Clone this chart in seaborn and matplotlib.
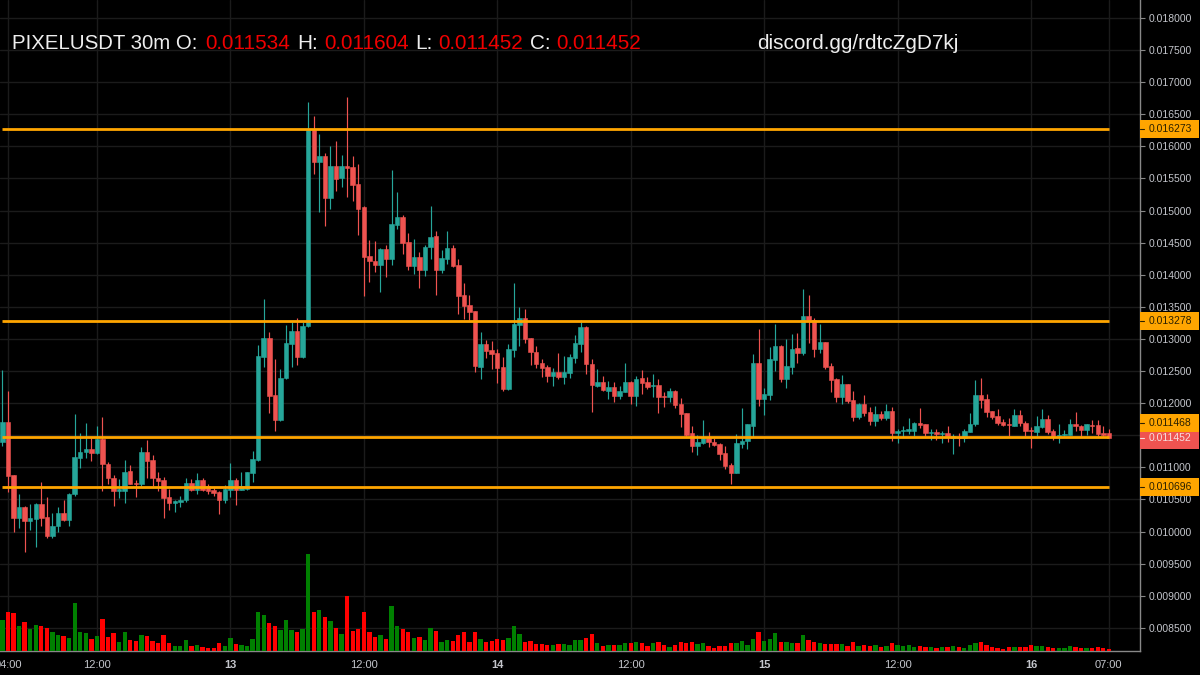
import numpy as np
import pandas as pd
import matplotlib
matplotlib.use('Agg')
import matplotlib.pyplot as plt
from matplotlib.patches import Rectangle
from matplotlib.transforms import blended_transform_factory
import seaborn as sns

# 价格单位: 1e-6
opens = [
    11398,11710,10880,10215,10381,10168,10194,10428,10220,9924,
    10080,10288,10184,10578,11149,11232,11289,11217,11435,11056,
    10838,10635,10635,10936,10760,10734,11243,11113,10838,10807,
    10542,10443,10459,10485,10760,10651,10807,10713,10646,10620,
    10485,10651,10807,10651,10667,10910,11118,12722,13012,12120,
    11731,12390,12924,13127,12722,13204,16256,15763,15857,15203,
    15696,15509,15696,15680,15415,15057,14294,14222,14154,14398,
    14253,14782,14907,14512,14139,14279,14076,14429,14601,14076,
    14253,14424,14149,13682,13537,13433,12571,12924,12831,12779,
    12556,12224,12836,13220,13329,13012,12805,12628,12556,12431,
    12488,12410,12472,12706,12924,13188,12617,12270,12337,12192,
    12254,12119,12176,12327,12119,12394,12327,12270,12280,12109,
    12093,12192,11984,11844,11533,11335,11377,11455,11403,11372,
    11226,11040,10910,11372,11408,11652,12628,12062,12135,12674,
    12892,12379,12571,12861,12789,13359,13297,12846,12955,12586,
    12384,12095,12293,12049,11789,11992,11857,11727,11831,11774,
    11872,11540,11561,11571,11571,11696,11670,11540,11556,11524,
    11540,11457,11467,11452,11556,11675,12132,12064,11877,11799,
    11711,11680,11649,11815,11696,11587,11556,11628,11758,11571,
    11483,11498,11509,11680,11649,11582,11665,11654,11535,11534,
]
highs = [
    12519,12192,10885,10589,10391,10428,10443,10776,10542,10288,
    10386,10485,10595,11829,11538,11694,11455,11637,11788,11087,
    10880,10822,11118,11040,10807,11321,11419,11186,10931,10853,
    10661,10495,10558,10838,10822,10910,10827,10744,10693,10625,
    10729,11071,10827,10931,10931,11258,12909,13625,13111,12691,
    12530,13220,13262,13324,13262,16687,16474,16194,15893,16007,
    16090,15872,16765,15846,15727,15068,14543,14528,14414,14466,
    15639,15291,14933,14647,14559,14351,14466,15073,14689,14383,
    14678,14471,14248,13874,13687,13438,13111,12981,12971,12846,
    12717,12924,13874,13495,13469,13023,12883,12691,12602,12545,
    12779,12737,12763,13064,13297,13195,12690,12534,12425,12342,
    12332,12270,12628,12347,12420,12519,12410,12456,12384,12181,
    12238,12207,12078,11854,11652,11507,11740,11553,11450,11387,
    11335,11071,11522,11927,11675,12763,13152,12233,12872,13240,
    12900,12996,13079,13090,13780,13686,13328,13230,12960,12628,
    12399,12443,12298,12194,12002,12121,11945,11960,11872,11986,
    11934,11597,11639,11774,11711,11929,11675,11597,11592,11571,
    11644,11524,11540,11597,11846,12365,12396,12147,11885,11903,
    11753,11763,11914,11888,11716,11633,11799,11914,11815,11597,
    11670,11587,11753,11862,11655,11680,11742,11742,11644,11604,
]
lows = [
    11336,10609,9987,10049,9675,10028,9758,10080,9893,9893,
    9987,10168,10080,10558,10983,11144,11103,11212,10635,10734,
    10402,10526,10443,10734,10542,10713,10827,10703,10635,10210,
    10340,10308,10386,10454,10635,10589,10635,10589,10558,10267,
    10443,10542,10417,10640,10651,10776,11103,12556,11845,11570,
    11720,12374,12571,12602,12696,13194,15566,14979,14761,15026,
    15306,15374,15218,15156,14621,13672,13895,14045,13739,13973,
    14149,14720,14326,14076,14014,13796,13988,14248,13687,14035,
    14170,14123,13391,13319,13288,12488,12369,12706,12535,12322,
    12182,12208,12722,12893,12940,12602,12545,12410,12327,12270,
    12384,12301,12399,12633,12804,12456,11870,12249,12192,12072,
    12020,12062,12170,11989,11958,12145,12223,12093,11844,11943,
    12020,11927,11636,11496,11242,11195,11370,11320,11335,11112,
    10977,10744,10905,11299,11289,11481,11958,11818,12046,12498,
    12327,12238,12462,12628,12752,12939,12721,12789,12529,12181,
    12020,11992,12002,11716,11753,11805,11665,11639,11742,11732,
    11410,11379,11473,11524,11483,11613,11483,11421,11421,11379,
    11395,11203,11327,11395,11550,11649,11929,11789,11753,11665,
    11649,11483,11639,11649,11483,11306,11483,11620,11524,11421,
    11379,11483,11500,11571,11493,11509,11535,11493,11483,11452,
]
closes = [
    11710,10869,10215,10381,10168,10205,10428,10210,9924,10090,
    10288,10184,10589,11154,11243,11289,11217,11435,11045,10827,
    10635,10661,10926,10744,10734,11243,11103,10827,10791,10526,
    10443,10469,10495,10760,10651,10807,10651,10635,10604,10485,
    10661,10807,10651,10713,10926,11128,12737,13012,12109,11731,
    12390,12935,13127,12722,13204,16256,15763,15857,15203,15696,
    15493,15696,15670,15405,15031,14284,14211,14154,14398,14253,
    14793,14907,14502,14144,14279,14076,14440,14590,14076,14268,
    14424,14139,13672,13521,13422,12576,12924,12820,12763,12545,
    12224,12846,13230,13329,12997,12794,12618,12545,12431,12488,
    12410,12488,12721,12939,13188,12607,12280,12337,12207,12254,
    12119,12192,12327,12119,12384,12311,12249,12285,12093,12093,
    12192,11974,11828,11507,11335,11392,11455,11392,11356,11216,
    11024,10910,11377,11413,11668,12628,12062,12145,12690,12892,
    12379,12581,12846,12789,13359,13297,12851,12955,12571,12363,
    12093,12293,12038,11789,11992,11851,11727,11831,11774,11872,
    11540,11571,11587,11592,11696,11654,11540,11556,11524,11540,
    11483,11483,11452,11571,11680,12132,12054,11862,11789,11696,
    11665,11659,11815,11685,11571,11561,11639,11758,11556,11483,
    11504,11524,11680,11639,11587,11670,11644,11524,11509,11452,
]
# 成交量 (相对值, 图上读取)
volumes = [
    94,118,115,75,87,67,78,76,70,58,
    47,44,38,145,58,55,36,44,97,41,
    55,28,58,33,30,47,44,30,25,47,
    24,16,16,33,16,19,13,10,10,24,
    16,38,22,19,16,36,118,109,84,76,
    64,92,64,58,67,292,118,123,103,89,
    70,52,166,61,67,118,58,41,49,36,
    134,75,65,56,39,42,34,68,59,26,
    34,29,48,56,26,56,37,26,29,37,
    32,40,76,51,26,29,20,20,17,17,
    20,20,17,34,34,40,51,23,14,17,
    17,17,23,23,28,23,14,23,28,17,
    11,17,26,23,26,20,23,14,8,14,
    14,23,23,31,17,37,56,31,37,53,
    26,28,23,23,48,34,26,23,20,20,
    20,20,14,28,14,17,14,17,11,14,
    23,17,14,17,11,14,11,11,8,11,
    11,14,11,8,17,23,26,17,11,8,
    5,11,11,11,11,17,14,14,11,8,
    8,8,14,11,8,8,8,11,8,5,
]

levels = [0.016273, 0.013278, 0.011468, 0.010696]
last_price = 0.011452
level_badges = [0.016273, 0.013278, 0.011692, 0.010696]
level_labels = ['0.016273', '0.013278', '0.011468', '0.010696']

time_ticks = [1, 17, 41, 65, 89, 113, 137, 161, 185, 199]
time_labels = ['04:00', '12:00', '13', '12:00', '14', '12:00', '15', '12:00', '16', '07:00']
bold_labels = ['13', '14', '15', '16']
price_ticks = [0.0085 + 0.0005 * k for k in range(20)]

UP = '#26a69a'
DOWN = '#ef5350'
ORANGE = '#ffa500'
GRID = '#1b1b1b'
TEXT = '#c4c6cc'

sns.set_theme(style='darkgrid', rc={
    'axes.facecolor': 'black',
    'figure.facecolor': 'black',
    'grid.color': GRID,
    'grid.linewidth': 1.0,
})
plt.rcParams['font.family'] = ['Liberation Sans', 'DejaVu Sans']

df = pd.DataFrame({
    'idx': np.arange(len(opens)),
    'open': np.array(opens) / 1e6,
    'high': np.array(highs) / 1e6,
    'low': np.array(lows) / 1e6,
    'close': np.array(closes) / 1e6,
    'volume': volumes,
})
df['side'] = np.where(df['close'] >= df['open'], 'up', 'down')
colors = df['side'].map({'up': UP, 'down': DOWN})

fig = plt.figure(figsize=(12, 6.75), dpi=100)
ax = fig.add_axes([0, 1 - 651 / 675, 1140 / 1200, 651 / 675])

# 成交量
ax_vol = ax.twinx()
sns.barplot(data=df, x='idx', y='volume', hue='side', native_scale=True, dodge=False,
            palette={'up': '#008000', 'down': '#ff0000'}, saturation=1, width=0.78,
            errorbar=None, legend=False, edgecolor='none', linewidth=0, ax=ax_vol)
ax_vol.set_ylim(0, 1953)
ax_vol.set_yticks([])
ax_vol.set_ylabel('')
ax_vol.set_xlabel('')
ax_vol.grid(False)
ax_vol.patch.set_visible(False)

# K线
ax.vlines(df['idx'], df['low'], df['high'], colors=colors, linewidth=0.85, zorder=3)
ax.bar(df['idx'], (df['close'] - df['open']).abs(), bottom=df[['open', 'close']].min(axis=1),
       width=0.8, color=colors, edgecolor=colors, linewidth=0.4, zorder=4)

# 水平位
ax.hlines(levels, 0, 199, colors=ORANGE, linewidth=2.0, zorder=5)

ax.set_xlim(-0.43, 204.6)
ax_vol.set_xlim(-0.43, 204.6)
ax.set_ylim(0.00814, 0.01828)

ax.yaxis.tick_right()
ax.set_yticks(price_ticks)
ax.set_yticklabels(['%.6f' % p for p in price_ticks])
ax.set_xticks(time_ticks)
ax.set_xticklabels(time_labels)
ax.tick_params(axis='y', colors=TEXT, labelsize=7.45, length=3.6, width=0.8, pad=2.6, color='#888888')
ax.tick_params(axis='x', colors=TEXT, labelsize=8, length=2.5, width=0.8, pad=4.2, color='#888888')
for label in ax.get_xticklabels():
    if label.get_text() in bold_labels:
        label.set_fontweight('bold')
ax.set_axisbelow(True)
ax.grid(True, color=GRID, linewidth=1.0)

for name, spine in ax.spines.items():
    spine.set_visible(name in ('right', 'bottom'))
    spine.set_color('#888888')
    spine.set_linewidth(1.0)
for spine in ax_vol.spines.values():
    spine.set_visible(False)

# 右侧价格标签
badge_tf = blended_transform_factory(ax.transAxes, ax.transData)
badge_w = 59 / 1140
badge_h = 18 / 64200


def add_badge(price, label, face, color, shift=0.0):
    ax.add_patch(Rectangle((1.0, price - badge_h / 2 - shift), badge_w, badge_h, transform=badge_tf,
                           facecolor=face, edgecolor='none', clip_on=False, zorder=6))
    ax.plot([1.0, 1.0 + 4 / 1140], [price, price], transform=badge_tf, color=color,
            linewidth=0.8, clip_on=False, zorder=7)
    ax.text(1.0 + 8.5 / 1140, price, label, transform=badge_tf, color=color, fontsize=7.45,
            va='center', ha='left', clip_on=False, zorder=7)


add_badge(last_price, '%.6f' % last_price, DOWN, '#f5e0e0', shift=0.00002)
for price, label in zip(level_badges, level_labels):
    add_badge(price, label, ORANGE, '#2a2000')

# 标题
title_parts = [
    (12, 'PIXELUSDT 30m O:', '#eeeeee', 14.7),
    (205, '0.011534', '#f00000', 14.95),
    (297, 'H:', '#eeeeee', 14.95),
    (324, '0.011604', '#f00000', 14.95),
    (415, 'L:', '#eeeeee', 14.95),
    (438, '0.011452', '#f00000', 14.95),
    (530, 'C:', '#eeeeee', 14.95),
    (556, '0.011452', '#f00000', 14.95),
    (757, 'discord.gg/rdtcZgD7kj', '#eeeeee', 14.95),
]
for x, text, color, size in title_parts:
    fig.text(x / 1200, 1 - 49 / 675, text, color=color, fontsize=size, va='baseline', ha='left')

fig.savefig('out.png', dpi=100, facecolor='black')
